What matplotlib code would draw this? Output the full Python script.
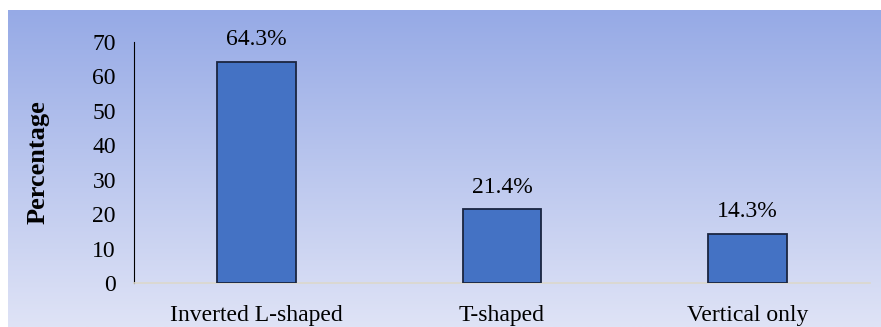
import numpy as np
from matplotlib import pyplot as plt

categories = ['Inverted L-shaped', 'T-shaped', 'Vertical only']
values = [64.3, 21.4, 14.3]
labels = ['64.3%', '21.4%', '14.3%']
y_ticks = [0, 10, 20, 30, 40, 50, 60, 70]

plt.rcParams['font.family'] = ['Liberation Serif', 'DejaVu Serif']

fig = plt.figure(figsize=(8.81, 3.27), dpi=100)

# gradient background
bg = fig.add_axes([8/881, 0, 1 - 8/881, 1 - 10/327], zorder=-10)
top = np.array([150, 170, 230]) / 255
bot = np.array([223, 227, 246]) / 255
t = np.linspace(0, 1, 256)[:, None]
grad = (top * (1 - t) + bot * t)[:, None, :]
bg.imshow(grad, aspect='auto', extent=[0, 1, 0, 1])
bg.axis('off')

ax = fig.add_axes([134/881, 44/327, 736/881, 241/327])
ax.set_facecolor('none')
x = np.arange(len(categories))
ax.bar(x, values, width=0.32, color='#4472c4', edgecolor='#1a2540', linewidth=1.3, zorder=3)
for xi, v, lab in zip(x, values, labels):
    ax.text(xi, v + 3.4, lab, ha='center', va='bottom', fontsize=17)

ax.set_xlim(-0.5, 2.5)
ax.set_ylim(0, 70)
ax.set_yticks(y_ticks)
ax.set_xticks(x)
ax.set_xticklabels(categories)
ax.tick_params(axis='both', length=0, labelsize=17)
ax.tick_params(axis='y', pad=13)
ax.tick_params(axis='x', pad=16)
ax.set_ylabel('Percentage', fontsize=19, fontweight='bold', labelpad=31)
ax.spines['top'].set_visible(False)
ax.spines['right'].set_visible(False)
ax.spines['left'].set_color('black')
ax.spines['bottom'].set_color('#dcd8cc')
ax.spines['bottom'].set_linewidth(1.2)

fig.savefig('out.png', dpi=100)
